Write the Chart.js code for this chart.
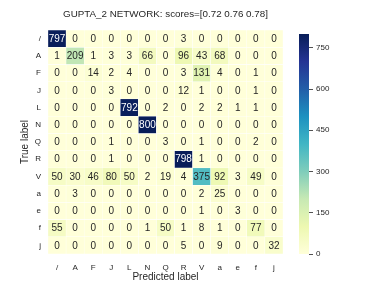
<!DOCTYPE html>
<html>
<head>
<meta charset="utf-8">
<script src="https://cdn.jsdelivr.net/npm/chart.js@4/dist/chart.umd.min.js"></script>
<style>
  html, body { margin: 0; padding: 0; background: #fff; }
  #wrap { position: relative; width: 381px; height: 286px; }
  #wrap canvas { position: absolute; left: 0; top: 0; }
</style>
</head>
<body>
<div id="wrap">
  <canvas id="cm" width="381" height="286"></canvas>
  <canvas id="cbar" width="381" height="286"></canvas>
</div>
<script>
const classLabels = ["/", "A", "F", "J", "L", "N", "Q", "R", "V", "a", "e", "f", "j"];
const counts = [
    [797, 0, 0, 0, 0, 0, 0, 3, 0, 0, 0, 0, 0],
    [1, 209, 1, 3, 3, 66, 0, 96, 43, 68, 0, 0, 0],
    [0, 0, 14, 2, 4, 0, 0, 3, 131, 4, 0, 1, 0],
    [0, 0, 0, 3, 0, 0, 0, 12, 1, 0, 0, 1, 0],
    [0, 0, 0, 0, 792, 0, 2, 0, 2, 2, 1, 1, 0],
    [0, 0, 0, 0, 0, 800, 0, 0, 0, 0, 0, 0, 0],
    [0, 0, 0, 1, 0, 0, 3, 0, 1, 0, 0, 2, 0],
    [0, 0, 0, 1, 0, 0, 0, 798, 1, 0, 0, 0, 0],
    [50, 30, 46, 80, 50, 2, 19, 4, 375, 92, 3, 49, 0],
    [0, 3, 0, 0, 0, 0, 0, 0, 2, 25, 0, 0, 0],
    [0, 0, 0, 0, 0, 0, 0, 0, 1, 0, 3, 0, 0],
    [55, 0, 0, 0, 0, 1, 50, 1, 8, 1, 0, 77, 0],
    [0, 0, 0, 0, 0, 0, 0, 5, 0, 9, 0, 0, 32]
];
const colorbarTicks = [0, 150, 300, 450, 600, 750];
const vmax = 800;
const chartTitle = "GUPTA_2 NETWORK: scores=[0.72 0.76 0.78]";

// YlGnBu
const palette = ["#ffffd9", "#edf8b1", "#c7e9b4", "#7fcdbb", "#41b6c4", "#1d91c0", "#225ea8", "#253494", "#081d58"];
const FONT = "'Liberation Sans', Arial, sans-serif";
const TEXT = "#262626";

function hexToRgb(h) {
    return [parseInt(h.slice(1, 3), 16), parseInt(h.slice(3, 5), 16), parseInt(h.slice(5, 7), 16)];
}
function cellColor(v) {
    const t = Math.max(0, Math.min(1, v / vmax)) * (palette.length - 1);
    const i = Math.min(Math.floor(t), palette.length - 2);
    const f = t - i;
    const a = hexToRgb(palette[i]), b = hexToRgb(palette[i + 1]);
    const c = a.map((x, k) => Math.round(x + (b[k] - x) * f));
    return `rgb(${c[0]},${c[1]},${c[2]})`;
}

// one floating-bar dataset per true-label row
const datasets = counts.map((row, i) => ({
    label: classLabels[i],
    data: row.map(() => [i, i + 1]),
    values: row,
    backgroundColor: row.map(cellColor),
    borderColor: "#ffffff",
    borderWidth: 0.5,
    borderSkipped: false,
    barPercentage: 1,
    categoryPercentage: 1,
    grouped: false
}));

const cellText = {
    id: "cellText",
    afterDatasetsDraw(chart) {
        const ctx = chart.ctx;
        ctx.save();
        ctx.font = "10px " + FONT;
        ctx.textAlign = "center";
        ctx.textBaseline = "middle";
        chart.data.datasets.forEach((ds, i) => {
            chart.getDatasetMeta(i).data.forEach((el, j) => {
                const v = ds.values[j];
                ctx.fillStyle = v > 500 ? "#ffffff" : TEXT;
                ctx.fillText(String(v), el.x, (el.y + el.base) / 2 + 0.5);
            });
        });
        // title centred over the heatmap
        const a = chart.chartArea;
        ctx.fillStyle = TEXT;
        ctx.font = "9.8px " + FONT;
        ctx.fillText(chartTitle, (a.left + a.right) / 2, 14);
        ctx.restore();
    }
};

new Chart(document.getElementById("cm"), {
    type: "bar",
    data: { labels: classLabels, datasets: datasets },
    options: {
        responsive: false,
        animation: false,
        layout: { padding: { left: 0, right: 98, top: 30, bottom: 0 } },
        plugins: {
            legend: { display: false },
            tooltip: { enabled: false },
            title: { display: false }
        },
        scales: {
            x: {
                grid: { display: false, drawTicks: false },
                border: { display: false },
                ticks: { color: TEXT, font: { family: FONT, size: 8 }, padding: 9, maxRotation: 0, autoSkip: false },
                title: { display: true, text: "Predicted label", color: TEXT, font: { family: FONT, size: 10 }, padding: { top: 0, bottom: 3 } },
                afterFit(scale) { scale.height = 32; }
            },
            y: {
                min: 0,
                max: classLabels.length,
                reverse: true,
                grid: { display: false, drawTicks: false },
                border: { display: false },
                afterBuildTicks(scale) {
                    scale.ticks = classLabels.map((l, i) => ({ value: i + 0.5 }));
                },
                ticks: {
                    color: TEXT,
                    font: { family: FONT, size: 8 },
                    padding: 7,
                    autoSkip: false,
                    callback: (v) => classLabels[Math.floor(v)]
                },
                title: { display: true, text: "True label", color: TEXT, font: { family: FONT, size: 10 }, padding: { top: 19, bottom: 0 } },
                afterFit(scale) { scale.width = 48; }
            }
        }
    },
    plugins: [cellText]
});

// colour bar
new Chart(document.getElementById("cbar"), {
    type: "bar",
    data: {
        labels: [""],
        datasets: [{
            data: [[0, vmax]],
            borderWidth: 0,
            barPercentage: 1,
            categoryPercentage: 1,
            backgroundColor(c) {
                const area = c.chart.chartArea;
                if (!area) return palette[0];
                const g = c.chart.ctx.createLinearGradient(0, area.bottom, 0, area.top);
                palette.forEach((p, k) => g.addColorStop(k / (palette.length - 1), p));
                return g;
            }
        }]
    },
    options: {
        responsive: false,
        animation: false,
        layout: { padding: { left: 299, right: 0, top: 34, bottom: 32 } },
        plugins: { legend: { display: false }, tooltip: { enabled: false } },
        scales: {
            x: { display: false },
            y: {
                position: "right",
                min: 0,
                max: vmax,
                afterBuildTicks(scale) {
                    scale.ticks = colorbarTicks.map(v => ({ value: v }));
                },
                grid: { drawOnChartArea: false, drawTicks: true, tickLength: 4, color: TEXT, lineWidth: 0.8 },
                border: { display: false },
                ticks: { color: TEXT, font: { family: FONT, size: 8 }, padding: 3 },
                afterFit(scale) { scale.width = 72; }
            }
        }
    }
});
</script>
</body>
</html>
